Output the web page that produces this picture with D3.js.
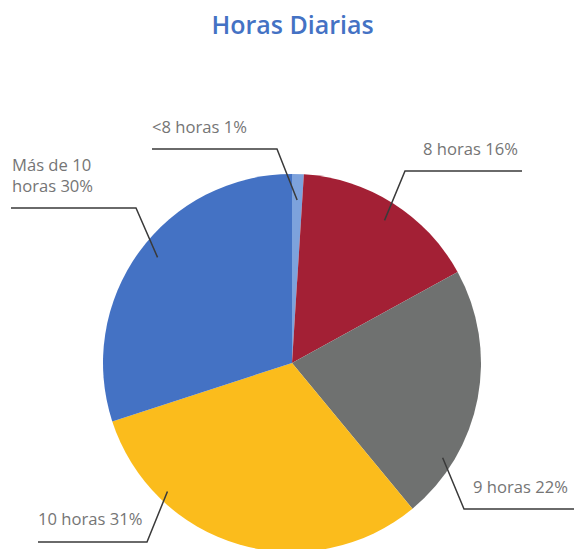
<!DOCTYPE html>
<html>
<head>
<meta charset="utf-8">
<script src="https://cdn.jsdelivr.net/npm/d3@7"></script>
<style>
  body { margin: 0; background: #fff; }
  svg { display: block; }
</style>
</head>
<body>
<div id="container"></div>
<script>
// data
const categories = ["<8 horas", "8 horas", "9 horas", "10 horas", "Más de 10 horas"];
const percents = [1, 16, 22, 31, 30];
const colors = ["#7DA2DC", "#A32035", "#6F7170", "#FBBC1C", "#4472C4"];

const width = 574, height = 549;
const cx = 292, cy = 363, radius = 189;

// where each leader line leaves its slice, and where the label sits
const labelLayout = [
  {t: 0.5,  r: 163, elbow: [277, 149], endX: 152, tx: 152, ty: 133, lines: ["<8 horas 1%"]},
  {t: 0.51, r: 170, elbow: [405, 171], endX: 522, tx: 423, ty: 155, lines: ["8 horas 16%"]},
  {t: 0.77, r: 178, elbow: [464, 509], endX: 574, tx: 473, ty: 493, lines: ["9 horas 22%"]},
  {t: 0.75, r: 179, elbow: [147, 542], endX: 38,  tx: 38,  ty: 525, lines: ["10 horas 31%"]},
  {t: 0.52, r: 171, elbow: [136, 208], endX: 11,  tx: 12,  ty: 171, lines: ["Más de 10", "horas 30%"]}
];

const svg = d3.select("#container").append("svg")
    .attr("width", width)
    .attr("height", height)
    .attr("viewBox", [0, 0, width, height]);

svg.append("text")
    .attr("x", 292.5)
    .attr("y", 34)
    .attr("text-anchor", "middle")
    .attr("font-family", "Open Sans, sans-serif")
    .attr("font-size", 25)
    .attr("font-weight", 600)
    .attr("fill", "#4472C4")
    .text("Horas Diarias");

const pie = d3.pie().sort(null).value(d => d);
const arcs = pie(percents);
const arc = d3.arc().innerRadius(0).outerRadius(radius);

const g = svg.append("g").attr("transform", `translate(${cx},${cy})`);

g.selectAll("path")
  .data(arcs)
  .join("path")
    .attr("d", arc)
    .attr("fill", (d, i) => colors[i]);

// leader lines
const line = d3.line();
svg.append("g")
    .attr("fill", "none")
    .attr("stroke", "#3a3a3a")
    .attr("stroke-width", 1.5)
  .selectAll("path")
  .data(arcs)
  .join("path")
    .attr("d", (d, i) => {
      const L = labelLayout[i];
      const a = d.startAngle + L.t * (d.endAngle - d.startAngle);
      const p0 = [cx + L.r * Math.sin(a), cy - L.r * Math.cos(a)];
      return line([p0, L.elbow, [L.endX, L.elbow[1]]]);
    });

// labels
svg.append("g")
    .attr("font-family", "Open Sans, sans-serif")
    .attr("font-size", 16.6)
    .attr("fill", "#757575")
  .selectAll("text")
  .data(labelLayout)
  .join("text")
    .attr("x", d => d.tx)
    .attr("y", d => d.ty)
  .selectAll("tspan")
  .data(d => d.lines.map((s, k) => ({s, k, x: d.tx})))
  .join("tspan")
    .attr("x", d => d.x)
    .attr("dy", d => d.k ? 21 : 0)
    .text(d => d.s);
</script>
</body>
</html>
